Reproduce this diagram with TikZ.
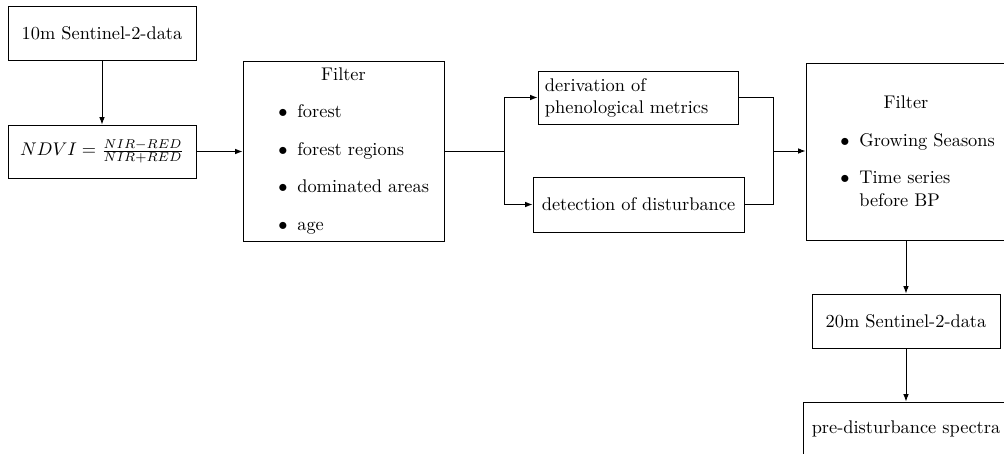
\documentclass[tikz,border=0pt]{standalone}
\usetikzlibrary{arrows.meta}
\newlength{\pxu}
\setlength{\pxu}{0.545pt}
\begin{document}
\begin{tikzpicture}[x=0.545pt,y=-0.545pt,
  box/.style={draw,line width=0.5pt,inner sep=0pt,align=center},
  itemtxt/.style={anchor=base west,inner sep=0pt},
  bul/.style={anchor=base east,inner sep=0pt},
  conn/.style={line width=0.5pt},
  arr/.style={conn,-{Latex[length=4pt,width=3pt]}}]
\clip (0,0) rectangle (1004,454);
\fill[white] (0,0) rectangle (1004,454);
% boxes
\node[box,minimum width=188*\pxu,minimum height=54*\pxu] (b1) at (102,33) {10m Sentinel-2-data};
\node[box,minimum width=188*\pxu,minimum height=53*\pxu] (ndvi) at (102,151.5) {$NDVI=\frac{NIR-RED}{NIR+RED}$};
\node[box,minimum width=201*\pxu,minimum height=180*\pxu] (f1) at (343.5,151) {};
\node[box,minimum width=200*\pxu,minimum height=53*\pxu,text width=200*\pxu-7.6pt,inner xsep=3.8pt,align=left] (der) at (638,97.5) {derivation of\\phenological metrics};
\node[box,minimum width=211*\pxu,minimum height=55*\pxu] (det) at (638.5,204.5) {detection of disturbance};
\node[box,minimum width=200*\pxu,minimum height=177*\pxu] (f2) at (906,151.5) {};
\node[box,minimum width=188*\pxu,minimum height=54*\pxu] (s20) at (906,321) {20m Sentinel-2-data};
\node[box,minimum width=206*\pxu,minimum height=54*\pxu] (pre) at (906,429) {pre-disturbance spectra};
% filter 1 contents
\node[anchor=base,inner sep=0pt] (f1t) at (343.5,81) {Filter};
\node[bul] (f1b1) at (288,118) {$\bullet$};
\node[itemtxt] (f1i1) at (297,118) {forest};
\node[bul] (f1b2) at (288,155.5) {$\bullet$};
\node[itemtxt] (f1i2) at (297,155.5) {forest regions};
\node[bul] (f1b3) at (288,193) {$\bullet$};
\node[itemtxt] (f1i3) at (297,193) {dominated areas};
\node[bul] (f1b4) at (288,230.5) {$\bullet$};
\node[itemtxt] (f1i4) at (297,230.5) {age};
% filter 2 contents
\node[anchor=base,inner sep=0pt] (f2t) at (906,109) {Filter};
\node[bul] (f2b1) at (850,147) {$\bullet$};
\node[itemtxt] (f2i1) at (859,147) {Growing Seasons};
\node[bul] (f2b2) at (850,184) {$\bullet$};
\node[itemtxt] (f2i2) at (859,184) {Time series};
\node[itemtxt] (f2i3) at (859,207) {before BP};
% connectors
\coordinate (split) at (504,151);
\coordinate (join) at (773,151);
\draw[arr] (b1.south) -- (ndvi.north);
\draw[arr] (ndvi.east) -- (f1.west|-ndvi.east);
\draw[conn] (f1.east) -- (split);
\draw[arr] (split) |- (der.west);
\draw[arr] (split) |- (det.west);
\draw[conn] (der.east) -| (join) |- (det.east);
\draw[arr] (join) -- (f2.west|-join);
\draw[arr] (f2.south) -- (s20.north);
\draw[arr] (s20.south) -- (pre.north);
\end{tikzpicture}
\end{document}
